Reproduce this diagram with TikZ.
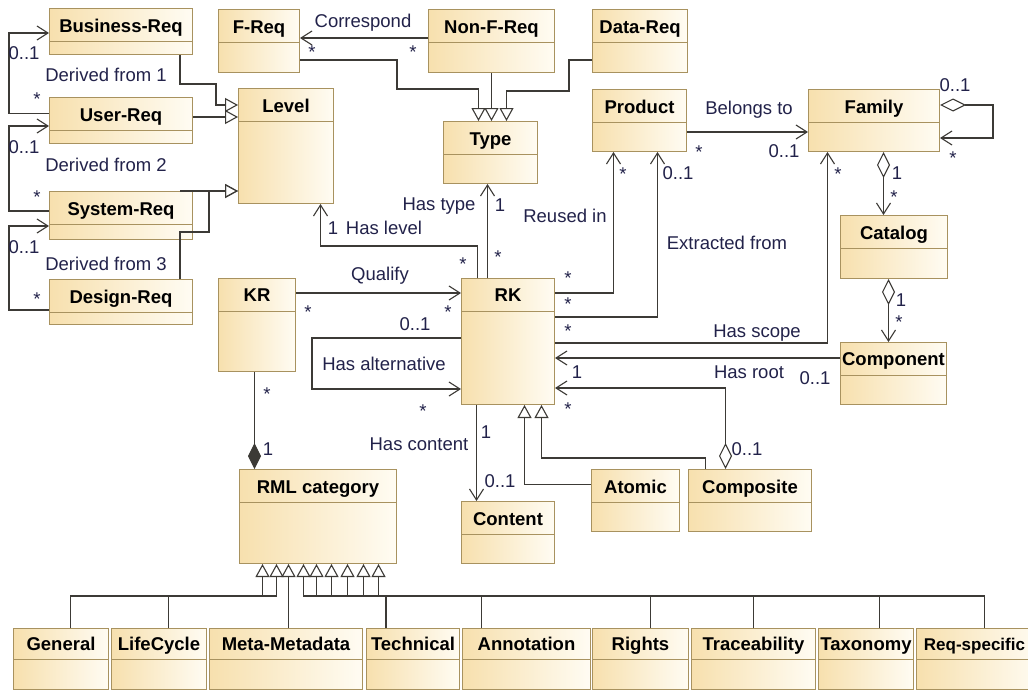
\documentclass[tikz,border=0pt]{standalone}
\usepackage{fontspec}
\setmainfont{Liberation Sans}
\usepackage{tikz}
\usetikzlibrary{arrows.meta}

\definecolor{boxline}{HTML}{A8925F}
\definecolor{boxdark}{HTML}{F7E0AE}
\definecolor{boxlight}{HTML}{FFFCF3}
\definecolor{wirecol}{HTML}{3C3A36}
\definecolor{lblcol}{HTML}{22224A}

\begin{document}
\begin{tikzpicture}[x=1pt, y=-1pt,
        umlclass/.style={draw=boxline, line width=1pt, left color=boxdark, right color=boxlight, anchor=north west, inner sep=0pt,
            path picture={\draw[boxline, line width=1pt] ([yshift=-#1]path picture bounding box.north west) -- ([yshift=-#1]path picture bounding box.north east);}},
        umlclass/.default=33pt,
        classname/.style={font=\bfseries\fontsize{18.5}{22}\selectfont, anchor=base, inner sep=0pt},
        lbl/.style={font=\fontsize{18.5}{22}\selectfont, text=lblcol, inner sep=0pt, text height=13pt, text depth=0pt},
        mstar/.style={lbl, yshift=-4pt},
        assoc/.style={draw=wirecol, line width=1.1pt, -{Straight Barb[length=11pt, width=14pt]}},
        gen/.style={draw=wirecol, line width=1.1pt, -{Triangle[open, length=13pt, width=14pt]}},
        agg/.style={draw=wirecol, line width=1.1pt, {Diamond[open, length=26pt, width=13pt]}-{Straight Barb[length=11pt, width=14pt]}},
        comp/.style={draw=wirecol, line width=1.1pt, {Diamond[length=26pt, width=13pt]}-}
    ]
        \path[use as bounding box] (0,0) rectangle (1028,691);
        \clip (0,0) rectangle (1028,691);
        \fill[white] (0,0) rectangle (1028,691);

        % Requirement levels
        \node[umlclass, minimum width=143pt, minimum height=46pt] (busreq) at (49,8) {};
        \node[classname] (busreq-t) at ([yshift=-24pt]busreq.north) {Business-Req};
        \node[umlclass, minimum width=143pt, minimum height=46pt] (userreq) at (49,97) {};
        \node[classname] (userreq-t) at ([yshift=-24pt]userreq.north) {User-Req};
        \node[umlclass, minimum width=143pt, minimum height=48pt] (sysreq) at (49,191) {};
        \node[classname] (sysreq-t) at ([yshift=-24pt]sysreq.north) {System-Req};
        \node[umlclass, minimum width=143pt, minimum height=45pt] (desreq) at (49,279) {};
        \node[classname] (desreq-t) at ([yshift=-24pt]desreq.north) {Design-Req};
        \node[umlclass, minimum width=95pt, minimum height=115pt] (level) at (238,88) {};
        \node[classname] (level-t) at ([yshift=-24pt]level.north) {Level};

        % Requirement types
        \node[umlclass, minimum width=81pt, minimum height=63pt] (freq) at (218,9) {};
        \node[classname] (freq-t) at ([yshift=-24pt]freq.north) {F-Req};
        \node[umlclass, minimum width=126pt, minimum height=63pt] (nonfreq) at (428,9) {};
        \node[classname] (nonfreq-t) at ([yshift=-24pt]nonfreq.north) {Non-F-Req};
        \node[umlclass, minimum width=95pt, minimum height=63pt] (datareq) at (592,9) {};
        \node[classname] (datareq-t) at ([yshift=-24pt]datareq.north) {Data-Req};
        \node[umlclass, minimum width=94pt, minimum height=62pt] (type) at (443,121) {};
        \node[classname] (type-t) at ([yshift=-24pt]type.north) {Type};

        % Product line
        \node[umlclass, minimum width=94pt, minimum height=62pt] (product) at (592,89) {};
        \node[classname] (product-t) at ([yshift=-24pt]product.north) {Product};
        \node[umlclass, minimum width=131pt, minimum height=62pt] (family) at (808,89) {};
        \node[classname] (family-t) at ([yshift=-24pt]family.north) {Family};
        \node[umlclass, minimum width=107pt, minimum height=63pt] (catalog) at (840,215) {};
        \node[classname] (catalog-t) at ([yshift=-24pt]catalog.north) {Catalog};
        \node[umlclass, minimum width=106pt, minimum height=62pt] (component) at (840,342) {};
        \node[classname] (component-t) at ([yshift=-23pt]component.north) {Component};

        % Reusable knowledge
        \node[umlclass, minimum width=93pt, minimum height=126pt] (rk) at (461,278) {};
        \node[classname] (rk-t) at ([yshift=-23pt]rk.north) {RK};
        \node[umlclass, minimum width=77pt, minimum height=93pt] (kr) at (218,278) {};
        \node[classname] (kr-t) at ([yshift=-23pt]kr.north) {KR};
        \node[umlclass, minimum width=157pt, minimum height=94pt] (rml) at (239,469) {};
        \node[classname] (rml-t) at ([yshift=-24pt]rml.north) {RML category};
        \node[umlclass, minimum width=93pt, minimum height=62pt] (content) at (461,501) {};
        \node[classname] (content-t) at ([yshift=-24pt]content.north) {Content};
        \node[umlclass, minimum width=88pt, minimum height=62pt] (atomic) at (591,469) {};
        \node[classname] (atomic-t) at ([yshift=-24pt]atomic.north) {Atomic};
        \node[umlclass, minimum width=123pt, minimum height=62pt] (composite) at (688,469) {};
        \node[classname] (composite-t) at ([yshift=-24pt]composite.north) {Composite};

        % RML categories
        \foreach \nm/\xx/\ww/\txt in {general/13/95/General, lifecycle/111/95/LifeCycle, metameta/209/153/Meta-Metadata,
                technical/366/93/Technical, annotation/462/128/Annotation, rights/592/96/Rights,
                traceability/691/124/Traceability, taxonomy/818/95/Taxonomy} {
            \node[umlclass=31pt, minimum width=\ww pt, minimum height=61pt] (\nm) at (\xx,628) {};
            \node[classname] (\nm-t) at ([yshift=-22pt]\nm.north) {\txt};
        }
        \node[umlclass=31pt, minimum width=124pt, minimum height=61pt] (reqspec) at (916,628) {};
        \node[classname, font=\bfseries\fontsize{17}{20}\selectfont] (reqspec-t) at ([xshift=-4pt, yshift=-22pt]reqspec.north) {Req-specific};

        % Derived from
        \draw[assoc] ([yshift=7pt]userreq.west) -- ++(-40,0) |- ([yshift=-25pt]busreq.north west);
        \draw[assoc] ([yshift=-20pt]sysreq.north west) -- ++(-40,0) |- ([yshift=-29pt]userreq.north west);
        \draw[assoc] ([yshift=-31pt]desreq.north west) -- ++(-40,0) |- ([yshift=-35pt]sysreq.north west);

        % Generalizations to Level
        \coordinate (lvlB) at ([yshift=-29pt]level.north west);
        \coordinate (lvlC) at ([yshift=-103pt]level.north west);
        \draw[gen] ([xshift=-13pt]busreq.south east) -- ++(0,29) -- ++(36,0) |- ([yshift=-17pt]level.north west);
        \draw[gen] (userreq.east |- lvlB) -- (lvlB);
        \draw[gen] ([xshift=-13pt]sysreq.north east) -- (lvlC);
        \draw[gen] ([xshift=-13pt]desreq.north east) -- ++(0,-47) -- ++(29,0) |- (lvlC);

        % Generalizations to Type
        \coordinate (typA) at ([xshift=-12pt]type.north);
        \coordinate (typB) at ([xshift=1pt]type.north);
        \coordinate (typC) at ([xshift=16pt]type.north);
        \draw[gen] ([yshift=13pt]freq.south east) -- ++(97,0) -- ++(0,29) -| (typA);
        \draw[gen] (nonfreq.south -| typB) -- (typB);
        \draw[gen] ([yshift=13pt]datareq.south west) -- ++(-23,0) -- ++(0,31) -| (typC);
        \draw[assoc] ([yshift=-29pt]nonfreq.north west) -- ([yshift=-29pt]freq.north east);

        % Product, Family, Catalog, Component
        \coordinate (famC) at ([xshift=9.5pt]family.south);
        \coordinate (catC) at ([xshift=-5.5pt]catalog.south);
        \draw[assoc] ([yshift=-43pt]product.north east) -- ([yshift=-43pt]family.north west);
        \draw[agg] ([yshift=-16pt]family.north east) -- ++(53,0) -- ++(0,33) -- ([yshift=-49pt]family.north east);
        \draw[agg] (famC) -- (famC |- catalog.north);
        \draw[agg] (catC) -- (catC |- component.north);

        % RK associations
        \coordinate (cmpR) at ([yshift=-16pt]component.north west);
        \coordinate (rkC) at ([xshift=-31.5pt]rk.south);
        \coordinate (rkT) at ([xshift=-20.5pt]rk.north);
        \coordinate (krQ) at ([yshift=-15pt]kr.north east);
        \coordinate (rmlK) at ([xshift=-63.5pt]rml.north);
        \draw[assoc] ([yshift=-15pt]rk.north east) -| ([xshift=-26pt]product.south);
        \draw[assoc] ([yshift=-39pt]rk.north east) -| ([xshift=18pt]product.south);
        \draw[assoc] ([yshift=-65pt]rk.north east) -| ([xshift=-46.5pt]family.south);
        \draw[assoc] (cmpR) -- (cmpR -| rk.east);
        \draw[agg] ([xshift=-24.5pt]composite.north) |- ([yshift=-110pt]rk.north east);
        \draw[gen] ([yshift=16pt]atomic.west) -| ([xshift=16.5pt]rk.south);
        \draw[gen] ([xshift=-44.5pt]composite.north) -- ++(0,-11) -| ([xshift=33.5pt]rk.south);
        \draw[assoc] (rkC) -- (rkC |- content.north);
        \draw[assoc] (rkT) -- (rkT |- type.south);
        \draw[assoc] ([xshift=-30.5pt]rk.north) -- ++(0,-32) -| ([xshift=34.5pt]level.south);
        \draw[assoc] (krQ) -- (krQ -| rk.west);
        \draw[assoc] ([yshift=-60pt]rk.north west) -- ++(-149,0) -- ++(0,51) -- ([yshift=-111pt]rk.north west);
        \draw[comp] (rmlK) -- (rmlK |- kr.south);

        % Generalizations to RML category
        \foreach \nm/\dx/\tx in {general/9.5/-55.5, lifecycle/9.5/-41.5, metameta/2.5/-29.5, technical/-27/-14.5,
                annotation/-45/-1.5, rights/10/13.5, traceability/0/29.5, taxonomy/13.5/45.5, reqspec/6/60.5}
            \draw[gen] ([xshift=\dx pt]\nm.north) -- ++(0,-32) -| ([xshift=\tx pt]rml.south);

        % Role names and multiplicities
        \node[lbl] (d1) at (106,75) {Derived from 1};
        \node[lbl] (d1a) at (24,53) {0..1};
        \node[mstar] (d1b) at (37,95) {*};
        \node[lbl] (d2) at (106,165) {Derived from 2};
        \node[lbl] (d2a) at (24,147) {0..1};
        \node[mstar] (d2b) at (37,193) {*};
        \node[lbl] (d3) at (106,264) {Derived from 3};
        \node[lbl] (d3a) at (24,247) {0..1};
        \node[mstar] (d3b) at (37,295) {*};
        \node[lbl] (cor) at (363,21) {Correspond};
        \node[mstar] (cora) at (312,48) {*};
        \node[mstar] (corb) at (413,48) {*};
        \node[lbl] (bel) at (749,108) {Belongs to};
        \node[mstar] (bela) at (699,148) {*};
        \node[lbl] (belb) at (784,151) {0..1};
        \node[lbl] (fama) at (955,85) {0..1};
        \node[mstar] (famb) at (953,154) {*};
        \node[lbl] (cata) at (897,173) {1};
        \node[mstar] (catb) at (894,193) {*};
        \node[lbl] (cmpa) at (901,300) {1};
        \node[mstar] (cmpb) at (899,318) {*};
        \node[lbl] (reu) at (565,216) {Reused in};
        \node[mstar] (reua) at (623,170) {*};
        \node[mstar] (reub) at (568,274) {*};
        \node[lbl] (ext) at (727,243) {Extracted from};
        \node[lbl] (exta) at (678,173) {0..1};
        \node[mstar] (extb) at (568,300) {*};
        \node[lbl] (sco) at (757,331) {Has scope};
        \node[mstar] (scoa) at (838,170) {*};
        \node[mstar] (scob) at (568,327) {*};
        \node[lbl] (roo) at (749,372) {Has root};
        \node[lbl] (rooa) at (577,372) {1};
        \node[lbl] (roob) at (815,378) {0..1};
        \node[lbl] (cpsa) at (747,449) {0..1};
        \node[mstar] (cpsb) at (568,405) {*};
        \node[lbl] (con) at (419,444) {Has content};
        \node[lbl] (cona) at (486,432) {1};
        \node[lbl] (conb) at (500,481) {0..1};
        \node[lbl] (typ) at (439,204) {Has type};
        \node[lbl] (typa) at (500,205) {1};
        \node[mstar] (typb) at (498,253) {*};
        \node[lbl] (lev) at (384,228) {Has level};
        \node[lbl] (leva) at (333,228) {1};
        \node[mstar] (levb) at (463,260) {*};
        \node[lbl] (qua) at (380,274) {Qualify};
        \node[mstar] (quaa) at (308,308) {*};
        \node[mstar] (quab) at (448,308) {*};
        \node[lbl] (alt) at (384,364) {Has alternative};
        \node[lbl] (alta) at (415,324) {0..1};
        \node[mstar] (altb) at (423,407) {*};
        \node[mstar] (rmla) at (267,390) {*};
        \node[lbl] (rmlb) at (268,449) {1};
    \end{tikzpicture}
\end{document}
